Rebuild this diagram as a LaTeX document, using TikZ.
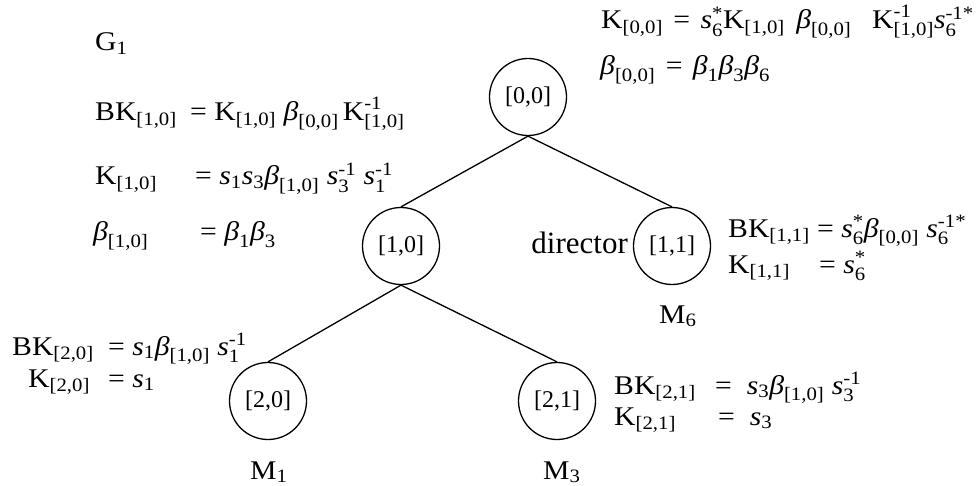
\documentclass[tikz,border=0pt]{standalone}
\usepackage{amsmath}
\usepackage{fontspec}
\setmainfont{Liberation Serif}
\newfontfamily\eqfont{Liberation Serif}[FakeStretch=1.1]
\newcommand\Kk[1]{\text{K}_{\text{[#1]}}}
\newcommand\BK[1]{\text{BK}_{\text{[#1]}}}
\newcommand\Kinv[1]{\text{K}_{\text{[#1]}}^{\text{-1}}}
\newcommand\bb[1]{\text{\itshape β}_{\text{[#1]}}}
\newcommand\bn[1]{\text{\itshape β}_{\text{#1}}}
\newcommand\sn[1]{\text{\itshape s}_{\text{#1}}}
\newcommand\ssup[2]{\text{\itshape s}_{\text{#1}}^{\text{#2}}}
\newcommand\EQ{\text{ = }}
\tikzset{
  eq/.style={anchor=base west, inner sep=0pt, font=\eqfont\fontsize{27}{32}\selectfont},
  treenode/.style={draw, circle, line width=1.3pt, minimum size=77pt, inner sep=0pt, font=\fontsize{24}{28}\selectfont},
  edge/.style={line width=1.3pt},
}
\begin{document}
\begin{tikzpicture}[x=1pt,y=-1pt]
\useasboundingbox (0,0) rectangle (979,486);
% tree nodes
\node[treenode] (n00) at (528,97) {[0,0]};
\node[treenode] (n10) at (401,246) {[1,0]};
\node[treenode] (n11) at (672,246) {[1,1]};
\node[treenode] (n20) at (268,401) {[2,0]};
\node[treenode] (n21) at (557,401) {[2,1]};
\draw[edge] (n00.south) -- (n10.north);
\draw[edge] (n00.south) -- (n11.north);
\draw[edge] (n10.south) -- (n20.north);
\draw[edge] (n10.south) -- (n21.north);
% labels
\node[eq] (g1) at (95,51) {$\text{G}_{\text{1}}$};
\node[eq] (tr1) at (601,29) {$\Kk{0,0}\hspace{3pt}\EQ\hspace{3pt}\ssup{6}{*}\Kk{1,0}\text{ }\hspace{4pt}\bb{0,0}\text{ \ }\hspace{6pt}\Kinv{1,0}\ssup{6}{-1*}$};
\node[eq] (tr2) at (600,75) {$\bb{0,0}\hspace{3pt}\EQ\hspace{3pt}\bn{1}\bn{3}\bn{6}$};
\node[eq] (l1) at (95,121) {\makebox[95pt][l]{$\BK{1,0}$}$\text{= }\Kk{1,0}\text{ }\bb{0,0}\,\Kinv{1,0}$};
\node[eq] (l2) at (95,185) {\makebox[100pt][l]{$\Kk{1,0}$}$\text{= }\sn{1}\sn{3}\bb{1,0}\text{ }\ssup{3}{-1}\text{ }\ssup{1}{-1}$};
\node[eq] (l3) at (93,241) {\makebox[107pt][l]{$\bb{1,0}$}$\text{= }\bn{1}\bn{3}$};
\node[anchor=base east, inner sep=0pt, font=\fontsize{31}{36}\selectfont] (dir) at (628,254) {director};
\node[eq] (r11a) at (728,237) {$\BK{1,1}\EQ\ssup{6}{*}\bb{0,0}\text{ }\ssup{6}{-1*}$};
\node[eq] (r11b) at (728,273) {\makebox[91pt][l]{$\Kk{1,1}$}$\text{= }\ssup{6}{*}$};
\node[eq] (m6) at (659,323) {$\text{M}_{\text{6}}$};
\node[eq] (l20a) at (12,355) {\makebox[96pt][l]{$\BK{2,0}$}$\text{= }\sn{1}\bb{1,0}\text{ }\ssup{1}{-1}$};
\node[eq] (l20b) at (28,387) {\makebox[80pt][l]{$\Kk{2,0}$}$\text{= }\sn{1}$};
\node[eq] (r21a) at (614,394) {\makebox[101pt][l]{$\BK{2,1}$}$\text{= \ }\sn{3}\bb{1,0}\text{ }\ssup{3}{-1}$};
\node[eq] (r21b) at (614,425) {\makebox[104pt][l]{$\Kk{2,1}$}$\text{= \ }\sn{3}$};
\node[eq] (m1) at (250,479) {$\text{M}_{\text{1}}$};
\node[eq] (m3) at (543,479) {$\text{M}_{\text{3}}$};
\end{tikzpicture}
\end{document}
